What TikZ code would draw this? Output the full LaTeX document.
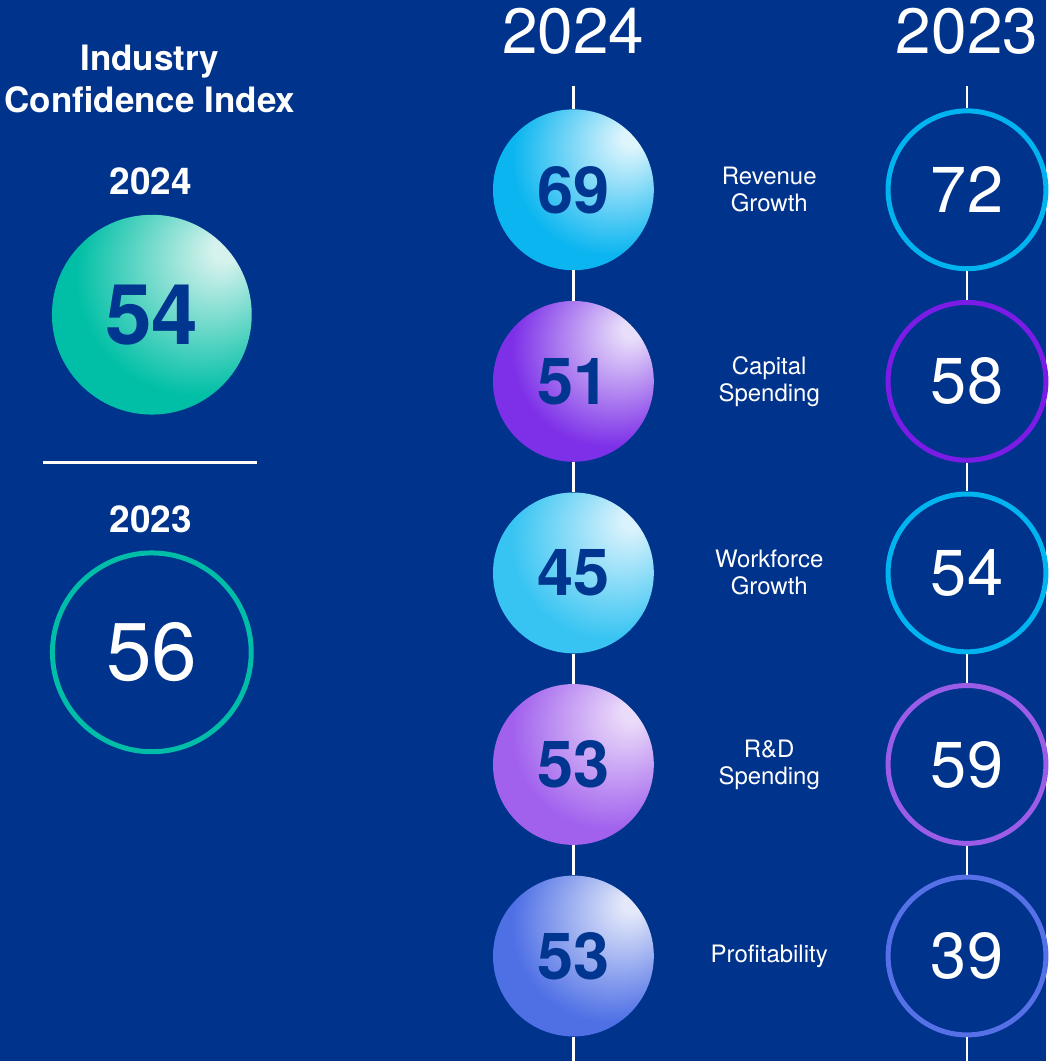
\documentclass[tikz,border=0pt]{standalone}
\usepackage{fontspec}
\setmainfont{TeX Gyre Heros}
\usetikzlibrary{positioning}

\definecolor{navy}{HTML}{00338C}
\definecolor{numblue}{HTML}{00368F}
\definecolor{ringcyan}{HTML}{00B4EF}
\definecolor{ringviolet}{HTML}{7A1BE6}
\definecolor{ringlilac}{HTML}{9B5CE8}
\definecolor{ringblue}{HTML}{5670E8}
\definecolor{ringteal}{HTML}{00BDA8}

% highlight sits near the upper right rim
\newcommand{\ballshading}[3]{%
  \pgfdeclareradialshading{#1}{\pgfpoint{19bp}{17bp}}%
    {rgb(0bp)=(#3); rgb(3bp)=(#3); rgb(30bp)=(#2); rgb(70bp)=(#2)}}
\ballshading{cyanball}{0.04,0.71,0.94}{0.87,0.96,0.99}
\ballshading{violetball}{0.49,0.19,0.91}{0.91,0.87,0.98}
\ballshading{skyball}{0.22,0.77,0.95}{0.85,0.95,0.99}
\ballshading{lilacball}{0.63,0.38,0.93}{0.92,0.86,0.98}
\ballshading{blueball}{0.31,0.44,0.90}{0.89,0.91,0.98}
\ballshading{tealball}{0.0,0.75,0.65}{0.84,0.95,0.93}

\begin{document}
\begin{tikzpicture}[x=1pt,y=-1pt,
    ball/.style={circle,inner sep=0pt,minimum size=161pt,shade,shading=#1,
        text=numblue,font=\fontsize{65}{65}\selectfont\bfseries},
    ring/.style={circle,inner sep=0pt,draw=#1,line width=5pt,minimum size=158pt,
        text=white,font=\fontsize{65}{65}\selectfont},
    rowlabel/.style={align=center,text=white,font=\fontsize{24}{27}\selectfont},
    header/.style={text=white,font=\fontsize{64}{64}\selectfont},
    yearlabel/.style={text=white,font=\fontsize{37}{37}\selectfont\bfseries},
    axis/.style={white,line width=2.2pt}]
    \fill[navy] (0,0) rectangle (1047,1062);
    %
    % left panel
    \node[text=white,align=center,font=\fontsize{35}{42}\selectfont\bfseries] (title) at (150,79) {Industry\\Confidence Index};
    \node[yearlabel] (idxyear24) at (151,181.5) {2024};
    \node[ball=tealball,minimum size=200pt,font=\fontsize{84}{84}\selectfont\bfseries] (idx24) at (152,315) {54};
    \coordinate (sepL) at (43,463);
    \coordinate (sepR) at (257,463);
    \draw[axis] (sepL) -- (sepR);
    \node[yearlabel] (idxyear23) at (151,520) {2023};
    \node[ring=ringteal,minimum size=199pt,font=\fontsize{82}{82}\selectfont] (idx23) at (152,653) {56};
    %
    % column heads
    \node[header] (head24) at (574,31.5) {2024};
    \node[header] (head23) at (968,31.5) {2023};
    \coordinate (top24) at (574,86);
    \coordinate (bot24) at (574,1062);
    \coordinate (top23) at (968,86);
    \coordinate (bot23) at (968,1062);
    %
    % 2024 column
    \begin{scope}[node distance=191.75pt]
    \node[ball=cyanball] (rev24) at (574,190) {69};
    \node[ball=violetball, below of=rev24] (cap24) {51};
    \node[ball=skyball, below of=cap24] (work24) {45};
    \node[ball=lilacball, below of=work24] (rd24) {53};
    \node[ball=blueball, below of=rd24] (prof24) {53};
    \end{scope}
    %
    % labels
    \begin{scope}[node distance=196pt]
    \node[rowlabel, right of=rev24] (revlab) {Revenue\\Growth};
    \node[rowlabel, right of=cap24] (caplab) {Capital\\Spending};
    \node[rowlabel, right of=work24] (worklab) {Workforce\\Growth};
    \node[rowlabel, right of=rd24] (rdlab) {R\&D\\Spending};
    \node[rowlabel, right of=prof24] (proflab) {Profitability};
    \end{scope}
    %
    % 2023 column
    \begin{scope}[node distance=394pt]
    \node[ring=ringcyan, right of=rev24] (rev23) {72};
    \node[ring=ringviolet, right of=cap24] (cap23) {58};
    \node[ring=ringcyan, right of=work24] (work23) {54};
    \node[ring=ringlilac, right of=rd24] (rd23) {59};
    \node[ring=ringblue, right of=prof24] (prof23) {39};
    \end{scope}
    %
    \draw[axis] (top24) -- (rev24);
    \draw[axis] (rev24) -- (cap24);
    \draw[axis] (cap24) -- (work24);
    \draw[axis] (work24) -- (rd24);
    \draw[axis] (rd24) -- (prof24);
    \draw[axis] (prof24) -- (bot24);
    \draw[axis] (top23) -- (rev23);
    \draw[axis] (rev23) -- (cap23);
    \draw[axis] (cap23) -- (work23);
    \draw[axis] (work23) -- (rd23);
    \draw[axis] (rd23) -- (prof23);
    \draw[axis] (prof23) -- (bot23);
\end{tikzpicture}
\end{document}
